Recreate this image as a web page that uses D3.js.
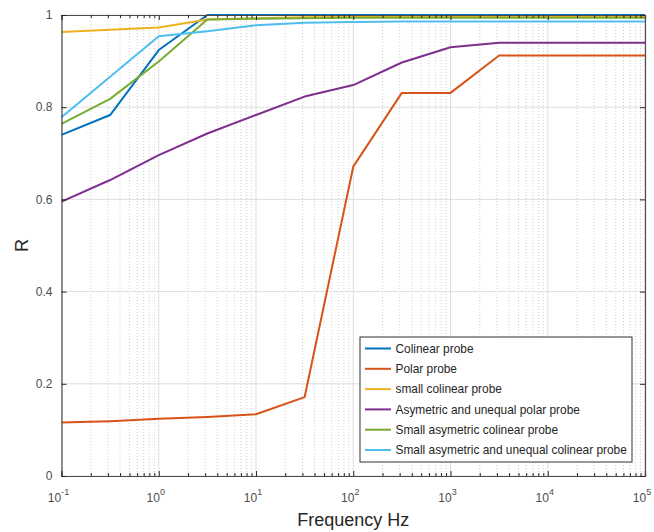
<!DOCTYPE html>
<html>
<head>
<meta charset="utf-8">
<script src="https://cdn.jsdelivr.net/npm/d3@7"></script>
<style>
  body { margin: 0; background: #fff; }
  text { font-family: "Liberation Sans", Arial, sans-serif; }
</style>
</head>
<body>
<div id="chart-area"></div>
<script>
// frequencies (Hz), half-decade steps
const freqs = [0.1, 0.316, 1, 3.16, 10, 31.6, 100, 316, 1000, 3162, 10000, 31623, 100000];

const colinear = [0.740, 0.783, 0.924, 1.000, 1.000, 1.000, 1.000, 1.000, 1.000, 1.000, 1.000, 1.000, 1.000];
const polar = [0.116, 0.119, 0.124, 0.128, 0.134, 0.171, 0.671, 0.831, 0.831, 0.912, 0.912, 0.912, 0.912];
const smallColinear = [0.963, 0.968, 0.973, 0.990, 0.993, 0.995, 0.996, 0.997, 0.997, 0.997, 0.997, 0.997, 0.997];
const asymPolar = [0.595, 0.642, 0.696, 0.743, 0.783, 0.823, 0.848, 0.897, 0.930, 0.940, 0.940, 0.940, 0.940];
const smallAsymColinear = [0.764, 0.818, 0.899, 0.990, 0.992, 0.993, 0.994, 0.994, 0.994, 0.994, 0.994, 0.994, 0.994];
const smallAsymUnequal = [0.778, 0.866, 0.954, 0.965, 0.978, 0.983, 0.985, 0.986, 0.986, 0.986, 0.986, 0.986, 0.986];

const seriesNames = [
  "Colinear probe",
  "Polar probe",
  "small colinear probe",
  "Asymetric and unequal polar probe",
  "Small asymetric colinear probe",
  "Small asymetric and unequal colinear probe"
];
const seriesValues = [colinear, polar, smallColinear, asymPolar, smallAsymColinear, smallAsymUnequal];
const colors = ["#0072BD", "#D95319", "#EDB120", "#7E2F8E", "#77AC30", "#4DBEEE"];

const yTicks = [0, 0.2, 0.4, 0.6, 0.8, 1];
const xExponents = [-1, 0, 1, 2, 3, 4, 5];

const m = { t: 15, l: 61.5, r: 9, b: 56 };
const w = 654;
const h = 532;
const width = w - m.l - m.r;
const height = h - m.t - m.b;

const svg = d3.select("#chart-area")
  .append("svg")
  .attr("width", w)
  .attr("height", h);

const g = svg.append("g")
  .attr("transform", "translate(" + m.l + "," + m.t + ")");

const x = d3.scaleLog().domain([0.1, 1e5]).range([0, width]);
const y = d3.scaleLinear().domain([0, 1]).range([height, 0]);

// minor ticks: 2..9 in each decade
const minor = [];
xExponents.slice(0, -1).forEach(e => {
  for (let k = 2; k <= 9; k++) minor.push(k * Math.pow(10, e));
});
const major = xExponents.map(e => Math.pow(10, e));

// grid
g.append("g").selectAll("line").data(minor).enter().append("line")
  .attr("x1", d => x(d)).attr("x2", d => x(d))
  .attr("y1", 0).attr("y2", height)
  .attr("stroke", "#c4c4c4")
  .attr("stroke-width", 0.8)
  .attr("stroke-dasharray", "1,2");

g.append("g").selectAll("line").data(major).enter().append("line")
  .attr("x1", d => x(d)).attr("x2", d => x(d))
  .attr("y1", 0).attr("y2", height)
  .attr("stroke", "#dedede")
  .attr("stroke-width", 1);

g.append("g").selectAll("line").data(yTicks).enter().append("line")
  .attr("x1", 0).attr("x2", width)
  .attr("y1", d => y(d)).attr("y2", d => y(d))
  .attr("stroke", "#dedede")
  .attr("stroke-width", 1);

// lines
const line = d3.line()
  .x((d, i) => x(freqs[i]))
  .y(d => y(d));

seriesValues.forEach((vals, i) => {
  g.append("path")
    .datum(vals)
    .attr("fill", "none")
    .attr("stroke", colors[i])
    .attr("stroke-width", 2)
    .attr("stroke-linejoin", "round")
    .attr("d", line);
});

// axes (inward ticks, box)
const axisColor = "#4d4d4d";

const xBottom = g.append("g")
  .attr("transform", "translate(0," + height + ")")
  .call(d3.axisTop(x).tickValues(major).tickSize(5).tickFormat(""));
const xBottomMinor = g.append("g")
  .attr("transform", "translate(0," + height + ")")
  .call(d3.axisTop(x).tickValues(minor).tickSize(3).tickFormat(""));
const xTop = g.append("g")
  .call(d3.axisBottom(x).tickValues(major).tickSize(5).tickFormat(""));
const xTopMinor = g.append("g")
  .call(d3.axisBottom(x).tickValues(minor).tickSize(3).tickFormat(""));
const yLeft = g.append("g")
  .call(d3.axisRight(y).tickValues(yTicks).tickSize(5).tickFormat(""));
const yRight = g.append("g")
  .attr("transform", "translate(" + width + ",0)")
  .call(d3.axisLeft(y).tickValues(yTicks).tickSize(5).tickFormat(""));

[xBottom, xBottomMinor, xTop, xTopMinor, yLeft, yRight].forEach(a => {
  a.select(".domain").attr("stroke", axisColor).attr("stroke-width", 1.2);
  a.selectAll(".tick line").attr("stroke", "#262626");
});

// y tick labels
g.append("g").selectAll("text").data(yTicks).enter().append("text")
  .attr("x", -9)
  .attr("y", d => y(d))
  .attr("dy", "0.35em")
  .attr("text-anchor", "end")
  .attr("font-size", "12px")
  .attr("fill", "#4d4d4d")
  .text(d => d3.format("~g")(d));

// x tick labels 10^n
const xl = g.append("g").selectAll("text").data(xExponents).enter().append("text")
  .attr("x", d => x(Math.pow(10, d)) - 3)
  .attr("y", height + 26)
  .attr("text-anchor", "middle")
  .attr("font-size", "12px")
  .attr("fill", "#4d4d4d");
xl.append("tspan").text("10");
xl.append("tspan")
  .attr("dy", -7)
  .attr("font-size", "9px")
  .text(d => d);

// axis labels
g.append("text")
  .attr("x", width / 2)
  .attr("y", height + 50)
  .attr("text-anchor", "middle")
  .attr("font-size", "18px")
  .attr("fill", "#262626")
  .text("Frequency Hz");

g.append("text")
  .attr("x", -(height / 2))
  .attr("y", -34)
  .attr("transform", "rotate(-90)")
  .attr("text-anchor", "middle")
  .attr("font-size", "18px")
  .attr("fill", "#262626")
  .text("R");

// legend
const lg = svg.append("g")
  .attr("transform", "translate(360,337)");

lg.append("rect")
  .attr("width", 272)
  .attr("height", 125)
  .attr("fill", "#fff")
  .attr("stroke", "#333")
  .attr("stroke-width", 1);

const items = lg.selectAll(".item").data(seriesNames).enter().append("g")
  .attr("class", "item")
  .attr("transform", (d, i) => "translate(0," + (11.5 + i * 20.3) + ")");

items.append("line")
  .attr("x1", 5).attr("x2", 31)
  .attr("stroke", (d, i) => colors[i])
  .attr("stroke-width", 2);

items.append("text")
  .attr("x", 35.5)
  .attr("dy", "0.35em")
  .attr("font-size", "11.9px")
  .attr("fill", "#262626")
  .text(d => d);
</script>
</body>
</html>
